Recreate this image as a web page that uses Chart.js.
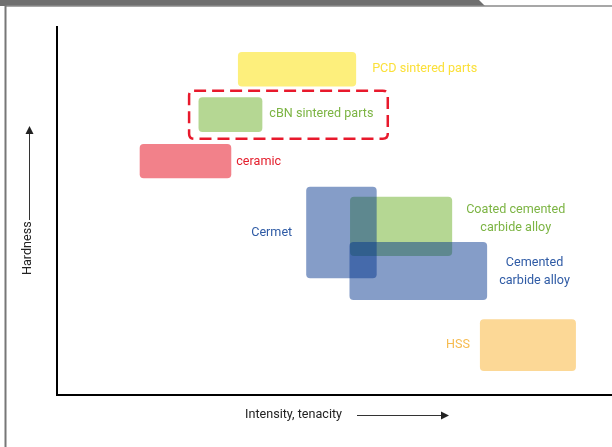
<!DOCTYPE html>
<html>
<head>
<meta charset="utf-8">
<script src="https://cdn.jsdelivr.net/npm/chart.js@4"></script>
<style>
html, body { margin: 0; padding: 0; background: #fff; }
canvas { display: block; }
</style>
</head>
<body>
<canvas id="toolChart" width="612" height="447"></canvas>
<script>
// tool materials, arbitrary units (x: intensity / tenacity, y: hardness)
// listed in drawing order (blue boxes are see-through and sit on top of the green one)
var materials = ['PCD sintered parts', 'cBN sintered parts', 'ceramic',
                 'Coated cemented\ncarbide alloy', 'Cermet', 'Cemented\ncarbide alloy', 'HSS'];
var tenacityFrom = [32.6, 25.5, 14.9, 52.8, 44.9, 52.7, 76.2];
var tenacityTo   = [53.9, 37.0, 31.4, 71.2, 57.6, 77.5, 93.5];
var hardnessFrom = [83.8, 71.5, 58.9, 37.8, 31.7, 25.8, 6.5];
var hardnessTo   = [93.2, 80.9, 68.2, 53.9, 56.6, 41.6, 20.6];
// dashed highlight around cBN
var highlightX = [23.8, 59.6];
var highlightY = [69.6, 82.7];
var axisNames = ['Intensity, tenacity', 'Hardness'];

// look of each box + where its label sits
var boxStyle = [
    { fill: '#fdef7c', text: '#fbe03a', side: 'right', gap: 16, dy: 0 },
    { fill: '#b5d793', text: '#7cb443', side: 'right', gap: 7, dy: -1 },
    { fill: '#f2818a', text: '#e4202e', side: 'right', gap: 5, dy: 1 },
    { fill: '#b5d793', text: '#7cb443', side: 'right', gap: 14, dy: -7, center: true },
    { fill: 'rgba(0,51,140,0.48)', text: '#2f5ba5', side: 'left', gap: 14, dy: 0 },
    { fill: 'rgba(0,51,140,0.48)', text: '#2f5ba5', side: 'right', gap: 12, dy: 1, center: true },
    { fill: '#fcd896', text: '#f6bb4f', side: 'left', gap: 10, dy: 0 }
];

var FONT = '12.6px Roboto, "DejaVu Sans", sans-serif';

function roundRect(ctx, x, y, w, h, r) {
    ctx.beginPath();
    ctx.moveTo(x + r, y);
    ctx.lineTo(x + w - r, y);
    ctx.quadraticCurveTo(x + w, y, x + w, y + r);
    ctx.lineTo(x + w, y + h - r);
    ctx.quadraticCurveTo(x + w, y + h, x + w - r, y + h);
    ctx.lineTo(x + r, y + h);
    ctx.quadraticCurveTo(x, y + h, x, y + h - r);
    ctx.lineTo(x, y + r);
    ctx.quadraticCurveTo(x, y, x + r, y);
    ctx.closePath();
}

function arrowHead(ctx, x, y, dir) {
    ctx.beginPath();
    if (dir === 'up') {
        ctx.moveTo(x, y); ctx.lineTo(x - 4, y + 8); ctx.lineTo(x + 4, y + 8);
    } else {
        ctx.moveTo(x, y); ctx.lineTo(x - 8, y - 4); ctx.lineTo(x - 8, y + 4);
    }
    ctx.closePath();
    ctx.fill();
}

var framePlugin = {
    id: 'frame',
    beforeDraw: function (chart) {
        var ctx = chart.ctx;
        ctx.save();
        ctx.fillStyle = '#fff';
        ctx.fillRect(0, 0, chart.width, chart.height);
        // grey header strip
        ctx.fillStyle = '#6f6f6f';
        ctx.beginPath();
        ctx.moveTo(0, 0); ctx.lineTo(479, 0); ctx.lineTo(485, 6); ctx.lineTo(0, 6);
        ctx.closePath();
        ctx.fill();
        ctx.strokeStyle = '#8a8a8a';
        ctx.lineWidth = 1.5;
        ctx.beginPath();
        ctx.moveTo(5, 6); ctx.lineTo(chart.width, 6);
        ctx.stroke();
        ctx.strokeStyle = '#777';
        ctx.lineWidth = 2;
        ctx.beginPath();
        ctx.moveTo(5.5, 5); ctx.lineTo(5.5, chart.height);
        ctx.stroke();
        ctx.restore();
    },
    afterDraw: function (chart) {
        var ctx = chart.ctx, xs = chart.scales.x, ys = chart.scales.y;
        ctx.save();
        // boxes
        for (var i = 0; i < materials.length; i++) {
            var x0 = xs.getPixelForValue(tenacityFrom[i]), x1 = xs.getPixelForValue(tenacityTo[i]);
            var y0 = ys.getPixelForValue(hardnessTo[i]), y1 = ys.getPixelForValue(hardnessFrom[i]);
            ctx.fillStyle = boxStyle[i].fill;
            roundRect(ctx, x0, y0, x1 - x0, y1 - y0, 4);
            ctx.fill();
        }
        // labels
        ctx.font = FONT;
        ctx.textBaseline = 'middle';
        for (var j = 0; j < materials.length; j++) {
            var s = boxStyle[j];
            var lines = materials[j].split('\n');
            var lx0 = xs.getPixelForValue(tenacityFrom[j]), lx1 = xs.getPixelForValue(tenacityTo[j]);
            var cy = (ys.getPixelForValue(hardnessFrom[j]) + ys.getPixelForValue(hardnessTo[j])) / 2 + s.dy;
            var maxW = 0;
            lines.forEach(function (l) { maxW = Math.max(maxW, ctx.measureText(l).width); });
            var tx;
            if (s.center) {
                ctx.textAlign = 'center';
                tx = (s.side === 'right' ? lx1 + s.gap + maxW / 2 : lx0 - s.gap - maxW / 2);
            } else if (s.side === 'right') {
                ctx.textAlign = 'left'; tx = lx1 + s.gap;
            } else {
                ctx.textAlign = 'right'; tx = lx0 - s.gap;
            }
            ctx.fillStyle = s.text;
            var lh = 18;
            lines.forEach(function (l, k) {
                ctx.fillText(l, tx, cy + (k - (lines.length - 1) / 2) * lh);
            });
        }
        // dashed highlight
        var hx0 = xs.getPixelForValue(highlightX[0]), hx1 = xs.getPixelForValue(highlightX[1]);
        var hy0 = ys.getPixelForValue(highlightY[1]), hy1 = ys.getPixelForValue(highlightY[0]);
        ctx.strokeStyle = '#e8192c';
        ctx.lineWidth = 2.5;
        ctx.setLineDash([12, 6]);
        roundRect(ctx, hx0, hy0, hx1 - hx0, hy1 - hy0, 5);
        ctx.stroke();
        ctx.setLineDash([]);

        // axis names with arrows
        ctx.fillStyle = '#222';
        ctx.strokeStyle = '#333';
        ctx.lineWidth = 1;
        ctx.textAlign = 'left';
        ctx.fillText(axisNames[0], 245, 415);
        ctx.beginPath(); ctx.moveTo(357, 415.5); ctx.lineTo(442, 415.5); ctx.stroke();
        arrowHead(ctx, 449, 415.5, 'right');

        ctx.save();
        ctx.translate(28, 275);
        ctx.rotate(-Math.PI / 2);
        ctx.fillText(axisNames[1], 0, 0);
        ctx.restore();
        ctx.beginPath(); ctx.moveTo(29.5, 220); ctx.lineTo(29.5, 133); ctx.stroke();
        arrowHead(ctx, 29.5, 126, 'up');
        ctx.restore();
    }
};

var ctxTool = document.getElementById('toolChart').getContext('2d');
var chartTool = new Chart(ctxTool, {
    type: 'scatter',
    data: { datasets: [] },
    options: {
        responsive: false,
        animation: false,
        layout: { padding: { left: 57, top: 27, right: 0, bottom: 52 } },
        plugins: { legend: { display: false }, tooltip: { enabled: false } },
        scales: {
            x: {
                type: 'linear', min: 0, max: 100,
                grid: { display: false, drawTicks: false },
                ticks: { display: false },
                border: { display: true, color: '#000', width: 2 }
            },
            y: {
                type: 'linear', min: 0, max: 100,
                grid: { display: false, drawTicks: false },
                ticks: { display: false },
                border: { display: true, color: '#000', width: 2 }
            }
        }
    },
    plugins: [framePlugin]
});
</script>
</body>
</html>
